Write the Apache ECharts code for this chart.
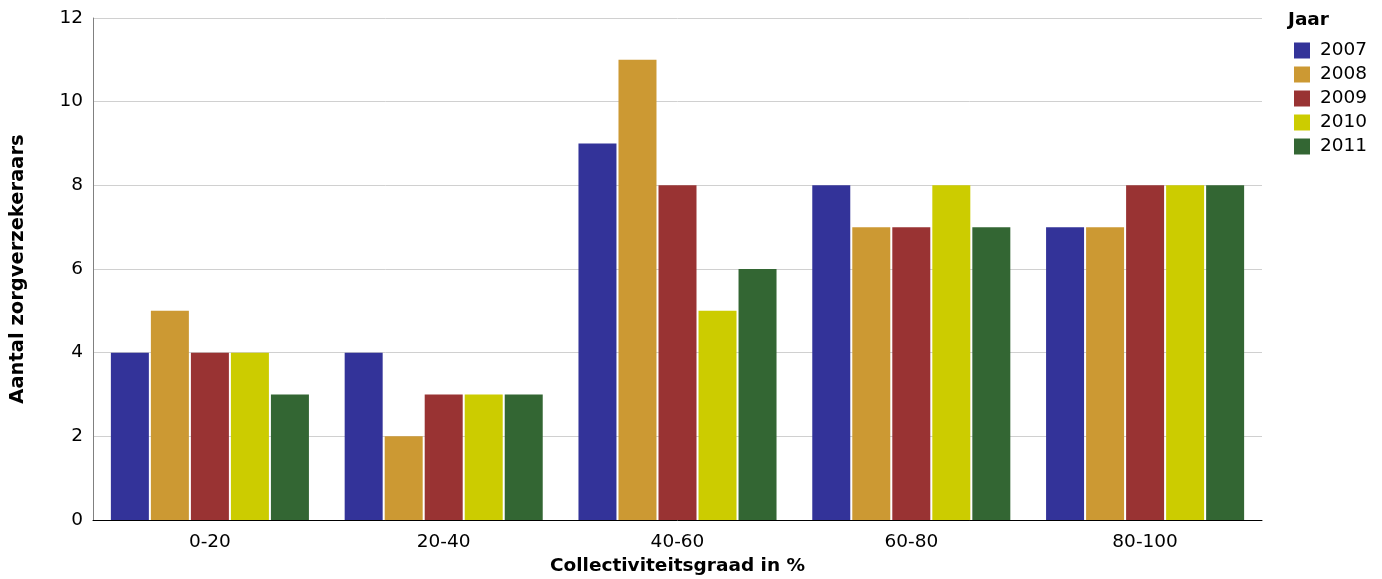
<!DOCTYPE html>
<html><head><meta charset="utf-8">
<script src="https://cdn.jsdelivr.net/npm/echarts@6/dist/echarts.min.js"></script>
<style>html,body{margin:0;padding:0;background:#fff}#c{width:1382px;height:579px}</style>
</head><body><div id="c"></div>
<script>
var categories = ['0-20', '20-40', '40-60', '60-80', '80-100'];
var years = ['2007', '2008', '2009', '2010', '2011'];
var v2007 = [4, 4, 9, 8, 7];
var v2008 = [5, 2, 11, 7, 7];
var v2009 = [4, 3, 8, 7, 8];
var v2010 = [4, 3, 5, 8, 8];
var v2011 = [3, 3, 6, 7, 8];
var yTicks = [0, 2, 4, 6, 8, 10, 12];
var colors = ['#333399', '#CC9933', '#993333', '#CCCC00', '#336633'];

var values = [v2007, v2008, v2009, v2010, v2011];
var font = 'Verdana, "DejaVu Sans", sans-serif';
var chart = echarts.init(document.getElementById('c'));
chart.setOption({
  animation: false,
  textStyle: { fontFamily: font },
  title: { text: 'Jaar', left: 1283, top: 6, textStyle: { fontFamily: font, fontSize: 18.5, fontWeight: 'bold', color: '#000' } },
  legend: {
    orient: 'vertical', left: 1289, top: 36,
    itemWidth: 16, itemHeight: 16, itemGap: 5,
    icon: 'rect',
    textStyle: { fontFamily: font, fontSize: 18.5, color: '#000', padding: [0, 0, 0, 5] },
    data: years
  },
  grid: { left: 93, right: 120, top: 18, bottom: 59, containLabel: false, outerBoundsMode: 'none' },
  xAxis: {
    type: 'category', data: categories,
    name: 'Collectiviteitsgraad in %', nameLocation: 'middle', nameGap: 35,
    nameTextStyle: { fontFamily: font, fontSize: 18.5, fontWeight: 'bold', color: '#000' },
    axisLine: { lineStyle: { color: '#000', width: 1 } },
    axisTick: { show: false },
    axisLabel: { fontFamily: font, fontSize: 18.5, color: '#000', margin: 13 }
  },
  yAxis: {
    type: 'value', min: yTicks[0], max: yTicks[yTicks.length - 1], interval: 2,
    name: 'Aantal zorgverzekeraars', nameLocation: 'middle', nameGap: 65, nameRotate: 90,
    nameTextStyle: { fontFamily: font, fontSize: 19.5, fontWeight: 'bold', color: '#000' },
    axisLine: { show: true, lineStyle: { color: '#808080', width: 1 } },
    axisTick: { show: false },
    axisLabel: { fontFamily: font, fontSize: 18.5, color: '#000', margin: 10 },
    splitLine: { lineStyle: { color: '#d0d0d0', width: 1 } }
  },
  series: years.map(function (y, i) {
    return {
      name: y, type: 'bar', data: values[i],
      barWidth: 38, barGap: '5.3%',
      itemStyle: { color: colors[i] }
    };
  })
});
</script></body></html>
